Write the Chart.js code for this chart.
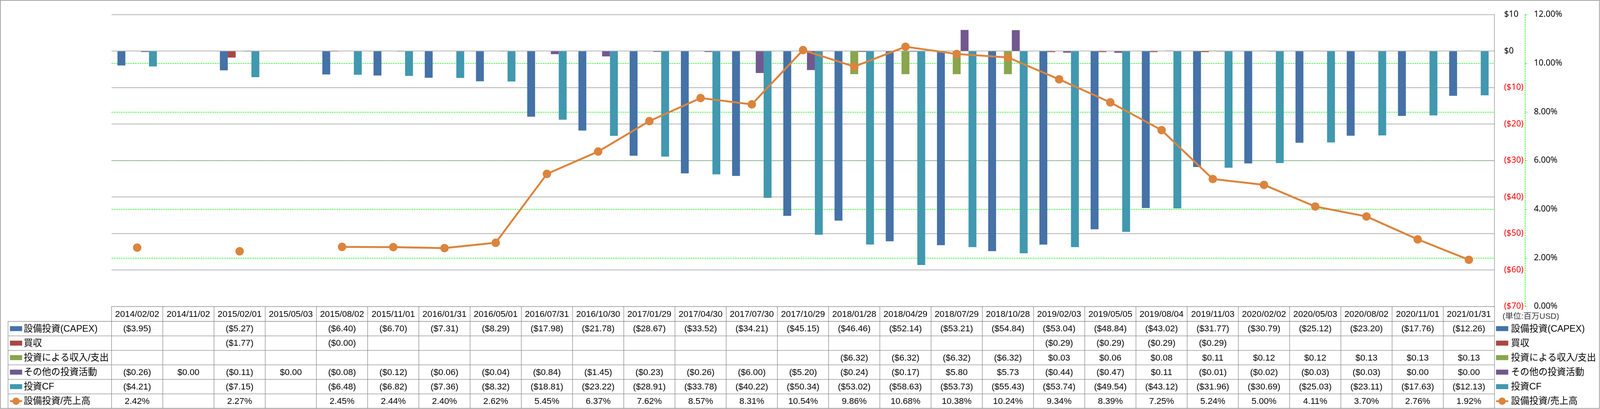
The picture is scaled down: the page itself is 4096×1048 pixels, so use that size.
<!DOCTYPE html>
<html>
<head>
<meta charset="utf-8">
<script src="https://cdn.jsdelivr.net/npm/chart.js@4.4.0/dist/chart.umd.min.js"></script>
<style>
  html, body { margin: 0; padding: 0; background: #ffffff; }
  #grafica { display: block; }
</style>
</head>
<body>
<canvas id="grafica" width="4096" height="1048"></canvas>
<script>
// 決算期
const fechas = ['2014/02/02', '2014/11/02', '2015/02/01', '2015/05/03', '2015/08/02', '2015/11/01',
    '2016/01/31', '2016/05/01', '2016/07/31', '2016/10/30', '2017/01/29', '2017/04/30', '2017/07/30',
    '2017/10/29', '2018/01/28', '2018/04/29', '2018/07/29', '2018/10/28', '2019/02/03', '2019/05/05',
    '2019/08/04', '2019/11/03', '2020/02/02', '2020/05/03', '2020/08/02', '2020/11/01', '2021/01/31'];

// 系列名
const nombres = ['設備投資(CAPEX)', '買収', '投資による収入/支出', 'その他の投資活動', '投資CF', '設備投資/売上高'];

// 百万USD
const capex = [-3.95, null, -5.27, null, -6.40, -6.70, -7.31, -8.29, -17.98, -21.78, -28.67, -33.52, -34.21,
    -45.15, -46.46, -52.14, -53.21, -54.84, -53.04, -48.84, -43.02, -31.77, -30.79, -25.12, -23.20, -17.76, -12.26];
const adquisiciones = [null, null, -1.77, null, -0.001, null, null, null, null, null, null, null, null,
    null, null, null, null, null, -0.29, -0.29, -0.29, -0.29, null, null, null, null, null];
const ingresosInversion = [null, null, null, null, null, null, null, null, null, null, null, null, null,
    null, -6.32, -6.32, -6.32, -6.32, 0.03, 0.06, 0.08, 0.11, 0.12, 0.12, 0.13, 0.13, 0.13];
const otras = [-0.26, 0.00, -0.11, 0.00, -0.08, -0.12, -0.06, -0.04, -0.84, -1.45, -0.23, -0.26, -6.00,
    -5.20, -0.24, -0.17, 5.80, 5.73, -0.44, -0.47, 0.11, -0.01, -0.02, -0.03, -0.03, 0.00, 0.00];
const flujoInversion = [-4.21, null, -7.15, null, -6.48, -6.82, -7.36, -8.32, -18.81, -23.22, -28.91, -33.78, -40.22,
    -50.34, -53.02, -58.63, -53.73, -55.43, -53.74, -49.54, -43.12, -31.96, -30.69, -25.03, -23.11, -17.63, -12.13];
// %
const ratio = [2.42, null, 2.27, null, 2.45, 2.44, 2.40, 2.62, 5.45, 6.37, 7.62, 8.57, 8.31,
    10.54, 9.86, 10.68, 10.38, 10.24, 9.34, 8.39, 7.25, 5.24, 5.00, 4.11, 3.70, 2.76, 1.92];

// 目盛り
const ticksUsd = [10, 0, -10, -20, -30, -40, -50, -60, -70];
const ticksPct = [0, 2, 4, 6, 8, 10, 12];

const colores = ['#4572A7', '#AA4643', '#89A54E', '#71588F', '#4198AF', '#DB843D'];
const S = 0.978;
const fuenteTabla = '"Liberation Sans", "Noto Sans CJK JP", sans-serif';
const gris = '#8a8a8a';
const verde = '#00FF00';
const guion = [4, 2];

function fmtUsd(v) {
    if (v === null || v === undefined) return '';
    const a = Math.abs(v).toFixed(2);
    return v < 0 ? '($' + a + ')' : '$' + a;
}
function fmtPct(v) {
    return (v === null || v === undefined) ? '' : v.toFixed(2) + '%';
}

// 凡例キー
function dibujarClave(ctx, i, x, y) {
    if (i === 5) {
        ctx.strokeStyle = colores[5];
        ctx.lineWidth = 4.5;
        ctx.beginPath();
        ctx.moveTo(x, y);
        ctx.lineTo(x + 32 * S, y);
        ctx.stroke();
        ctx.fillStyle = colores[5];
        ctx.beginPath();
        ctx.arc(x + 16 * S, y, 9.5 * S, 0, Math.PI * 2);
        ctx.fill();
    } else {
        ctx.fillStyle = colores[i];
        ctx.fillRect(x, y - 6.5 * S, 32 * S, 13 * S);
    }
}

// 第2軸の目盛線 (緑の破線)
const rejillaPlugin = {
    id: 'rejilla',
    beforeDraw(chart) {
        const ctx = chart.ctx;
        const area = chart.chartArea;
        const y2 = chart.scales.y2;
        const extremos = [ticksPct[0], ticksPct[ticksPct.length - 1]];
        ctx.save();
        ctx.strokeStyle = verde;
        ctx.lineWidth = 1.5;
        ctx.setLineDash(guion);
        ctx.beginPath();
        ticksPct.forEach(v => {
            const yy = Math.round(y2.getPixelForValue(v)) + 0.5;
            // 上下端は灰色の目盛線と重なるので省略
            if (!extremos.includes(v)) {
                ctx.moveTo(area.left, yy);
                ctx.lineTo(area.right, yy);
            }
            ctx.moveTo(y2.left, yy);
            ctx.lineTo(y2.left + 7 * S, yy);
        });
        ctx.stroke();
        ctx.beginPath();
        ctx.moveTo(Math.round(y2.left) + 0.5, y2.top);
        ctx.lineTo(Math.round(y2.left) + 0.5, y2.bottom);
        ctx.stroke();
        ctx.restore();
    }
};

// データテーブルと凡例
const tablaPlugin = {
    id: 'tabla',
    afterDraw(chart) {
        const ctx = chart.ctx;
        const area = chart.chartArea;
        const x = chart.scales.x;
        const n = fechas.length;
        const colW = (area.right - area.left) / n;
        const top = area.bottom;
        const headerH = 39 * S;
        const rowH = 38 * S;
        const x0 = 21 * S;
        const bottom = top + headerH + rowH * 6;
        const filas = [capex, adquisiciones, ingresosInversion, otras, flujoInversion, ratio];

        ctx.save();
        ctx.strokeStyle = gris;
        ctx.lineWidth = 1.3;
        ctx.beginPath();
        ctx.moveTo(area.left, top);
        ctx.lineTo(area.right, top);
        for (let k = 0; k <= 6; k++) {
            const yy = top + headerH + rowH * k;
            ctx.moveTo(x0, yy);
            ctx.lineTo(area.right, yy);
        }
        ctx.moveTo(x0, top + headerH);
        ctx.lineTo(x0, bottom);
        for (let i = 0; i <= n; i++) {
            const xx = area.left + colW * i;
            ctx.moveTo(xx, top);
            ctx.lineTo(xx, bottom);
        }
        ctx.stroke();

        ctx.font = (23 * S) + 'px ' + fuenteTabla;
        ctx.textAlign = 'center';
        ctx.textBaseline = 'middle';
        ctx.fillStyle = '#000000';
        for (let i = 0; i < n; i++) {
            const cx = x.getPixelForValue(i);
            ctx.fillText(fechas[i], cx, top + headerH / 2 + 1);
            filas.forEach((fila, r) => {
                const txt = r === 5 ? fmtPct(fila[i]) : fmtUsd(fila[i]);
                ctx.fillText(txt, cx, top + headerH + rowH * r + rowH / 2 + 1);
            });
        }

        // 左の凡例
        ctx.textAlign = 'left';
        nombres.forEach((nom, r) => {
            const yy = top + headerH + rowH * r + rowH / 2;
            dibujarClave(ctx, r, 26 * S, yy);
            ctx.fillStyle = '#000000';
            ctx.font = (24 * S) + 'px ' + fuenteTabla;
            ctx.fillText(nom, 62 * S, yy + 1);
        });

        // 右の凡例
        ctx.font = (21 * S) + 'px ' + fuenteTabla;
        ctx.fillStyle = '#333333';
        ctx.fillText('(単位:百万USD)', 3933 * S, 830 * S);
        nombres.forEach((nom, r) => {
            const yy = top + headerH + rowH * r + rowH / 2;
            dibujarClave(ctx, r, 3916 * S, yy);
            ctx.fillStyle = '#000000';
            ctx.font = (24 * S) + 'px ' + fuenteTabla;
            ctx.fillText(nom, 3955 * S, yy + 1);
        });

        // 外枠
        ctx.strokeStyle = gris;
        ctx.lineWidth = 1.5;
        ctx.strokeRect(1, 1, chart.width - 2.5, chart.height - 2.5);
        ctx.restore();
    }
};

function barra(i, datos) {
    return {
        type: 'bar',
        label: nombres[i],
        data: datos,
        backgroundColor: colores[i],
        borderWidth: 0,
        yAxisID: 'y',
        order: 1,
        categoryPercentage: 0.77,
        barPercentage: 1.0,
    };
}

const ctx = document.getElementById('grafica').getContext('2d');
new Chart(ctx, {
    data: {
        labels: fechas,
        datasets: [
            {
                type: 'line',
                label: nombres[5],
                data: ratio,
                yAxisID: 'y2',
                order: 0,
                borderColor: colores[5],
                backgroundColor: colores[5],
                borderWidth: 5 * S,
                pointRadius: 11 * S,
                pointBorderWidth: 0,
                pointBackgroundColor: colores[5],
                spanGaps: false,
                tension: 0,
            },
            barra(0, capex),
            barra(1, adquisiciones),
            barra(2, ingresosInversion),
            barra(3, otras),
            barra(4, flujoInversion),
        ],
    },
    options: {
        responsive: false,
        devicePixelRatio: 1,
        animation: false,
        layout: {
            padding: { left: 292 * S, top: 15.3 * S, right: 0, bottom: 1048 - 803 * S },
        },
        plugins: {
            legend: { display: false },
            tooltip: { enabled: false },
        },
        scales: {
            x: {
                display: false,
                offset: true,
                grid: { display: false },
            },
            y: {
                position: 'right',
                weight: 0,
                min: -70,
                max: 10,
                afterBuildTicks: s => { s.ticks = ticksUsd.map(v => ({ value: v })); },
                afterFit: s => { s.width = (3992 - 3912) * S; },
                grid: { color: gris, lineWidth: 1.3, drawTicks: false },
                border: { display: true, color: gris, width: 1.3 },
                ticks: {
                    padding: (3937 - 3912) * S,
                    font: { family: 'Noto Sans', size: 22 * S },
                    color: c => (c.tick && c.tick.value < 0) ? '#FF0000' : '#000000',
                    callback: v => v < 0 ? '($' + (-v) + ')' : '$' + v,
                },
            },
            y2: {
                position: 'right',
                weight: 1,
                min: 0,
                max: 12,
                afterBuildTicks: s => { s.ticks = ticksPct.map(v => ({ value: v })); },
                afterFit: s => { s.width = 4096 - 3992 * S; },
                grid: { color: 'rgba(0,0,0,0)', drawTicks: false, drawOnChartArea: false },
                border: { display: false },
                ticks: {
                    padding: 23 * S,
                    font: { family: 'Noto Sans', size: 22 * S },
                    color: '#000000',
                    callback: v => v.toFixed(2) + '%',
                },
            },
        },
    },
    plugins: [rejillaPlugin, tablaPlugin],
});
</script>
</body>
</html>
